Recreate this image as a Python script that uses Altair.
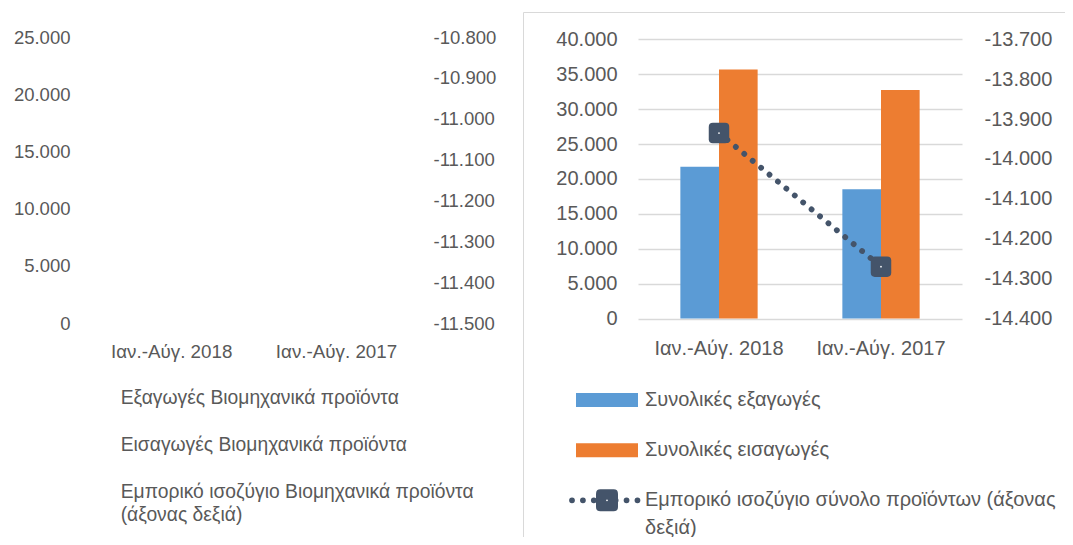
import altair as alt
import pandas as pd

# ---------------- data ----------------
categories = ["Ιαν.-Αύγ. 2018", "Ιαν.-Αύγ. 2017"]

# right panel: all products
bar_series = ["Συνολικές εξαγωγές", "Συνολικές εισαγωγές"]
exports_total = [21750, 18500]
imports_total = [35690, 32750]
balance_series = "Εμπορικό ισοζύγιο σύνολο προϊόντων (άξονας δεξιά)"
balance_total = [-13935, -14270]
total_legend_series = [bar_series[0], bar_series[1], balance_series]
total_legend_labels = [
    "Συνολικές εξαγωγές",
    "Συνολικές εισαγωγές",
    "Εμπορικό ισοζύγιο σύνολο προϊόντων (άξονας\nδεξιά)",
]

# left panel: industrial products (series without plotted values)
industrial_series = [
    "Εξαγωγές Βιομηχανικά προϊόντα",
    "Εισαγωγές  Βιομηχανικά προϊόντα",
    "Εμπορικό ισοζύγιο Βιομηχανικά προϊόντα (άξονας δεξιά)",
]
industrial_legend_labels = [
    "Εξαγωγές Βιομηχανικά προϊόντα",
    "Εισαγωγές  Βιομηχανικά προϊόντα",
    "Εμπορικό ισοζύγιο Βιομηχανικά προϊόντα\n(άξονας δεξιά)",
]
industrial_trade = [None, None]
industrial_balance = [None, None]

# axis ticks
left_ticks_l = [0, 5000, 10000, 15000, 20000, 25000]
left_ticks_r = [-11500, -11400, -11300, -11200, -11100, -11000, -10900, -10800]
right_ticks_l = [0, 5000, 10000, 15000, 20000, 25000, 30000, 35000, 40000]
right_ticks_r = [-14400, -14300, -14200, -14100, -14000, -13900, -13800, -13700]

# ---------------- style ----------------
W, H = 1057, 529
GREY = "#595959"
GRID = "#D9D9D9"
BLUE, ORANGE, DARK = "#5B9BD5", "#ED7D31", "#44546A"
FONT = "Liberation Sans"
ROUNDED = "M-0.6,-1H0.6Q1,-1,1,-0.6V0.6Q1,1,0.6,1H-0.6Q-1,1,-1,0.6V-0.6Q-1,-1,-0.6,-1Z"


def axis(orient, offset, size, values=None, grid=False, **kw):
    args = dict(orient=orient, offset=offset, title=None, domain=False, ticks=False,
                tickSize=0, labelPadding=0, labelColor=GREY, labelFontSize=size,
                labelFont=FONT, grid=grid)
    if values is not None:
        args["values"] = values
        args["format"] = ",d"
    if grid:
        args["gridColor"] = GRID
        args["gridWidth"] = 1.5
    args.update(kw)
    return alt.Axis(**args)


# ---------------- left panel ----------------
ind_df = pd.DataFrame({"period": categories, "trade": industrial_trade,
                       "balance": industrial_balance})
x_left = alt.X("period:N", sort=categories,
               scale=alt.Scale(type="band", domain=categories, range=[81.3, 410.9],
                               paddingInner=0, paddingOuter=0),
               axis=axis("bottom", -185.3, 18.8, labelBaseline="middle", labelAngle=0))
left_a = alt.Chart(ind_df).mark_point(opacity=0).encode(
    x=x_left,
    y=alt.Y("trade:Q", scale=alt.Scale(domain=[0, 25000], range=[315, 29], nice=False, zero=False),
            axis=axis("left", -62, 18.5, values=left_ticks_l)))
left_b = alt.Chart(ind_df).mark_point(opacity=0).encode(
    x=x_left,
    y=alt.Y("balance:Q", scale=alt.Scale(domain=[-11500, -10800], range=[315, 29], nice=False, zero=False),
            axis=axis("right", -632, 18.5, values=left_ticks_r)))
left = alt.layer(left_a, left_b).resolve_scale(y="independent")

# ---------------- right panel ----------------
bars_df = pd.DataFrame({
    "period": categories * 2,
    "series": [bar_series[0]] * 2 + [bar_series[1]] * 2,
    "value": exports_total + imports_total,
})
bal_df = pd.DataFrame({"period": categories, "balance": balance_total})

x_right = alt.X("period:N", sort=categories,
                scale=alt.Scale(type="band", domain=categories, range=[630, 954],
                                paddingInner=0.523, paddingOuter=0.2615),
                axis=axis("bottom", -189, 20, labelBaseline="middle", labelAngle=0))
bar_color = alt.Color("series:N", scale=alt.Scale(domain=bar_series, range=[BLUE, ORANGE]), legend=None)

bars = alt.Chart(bars_df).mark_bar().encode(
    x=x_right,
    xOffset=alt.XOffset("series:N", sort=bar_series,
                        scale=alt.Scale(domain=bar_series, paddingInner=0, paddingOuter=0)),
    y=alt.Y("value:Q", scale=alt.Scale(domain=[0, 40000], range=[310.5, 31.3], nice=False),
            axis=axis("left", -609, 20, values=right_ticks_l, grid=True)),
    color=bar_color,
)
y_bal = alt.Y("balance:Q",
              scale=alt.Scale(domain=[-14400, -13700], range=[310.5, 31.3], nice=False, zero=False),
              axis=axis("right", -81, 20, values=right_ticks_r))
line = alt.Chart(bal_df).mark_line(color=DARK, strokeWidth=5.8, strokeDash=[0.01, 10.9],
                                   strokeCap="round").encode(x=x_right, y=y_bal)
markers = alt.Chart(bal_df).mark_point(shape=ROUNDED, size=420, filled=True, color=DARK,
                                       opacity=1).encode(x=x_right, y=y_bal)
centers = alt.Chart(bal_df).mark_point(shape="circle", size=3, filled=True, color="white",
                                       opacity=1).encode(x=x_right, y=y_bal)
right = alt.layer(bars, alt.layer(line, markers, centers)).resolve_scale(y="independent")

# ---------------- legends ----------------
ind_leg_df = pd.DataFrame({"series": industrial_series, "label": industrial_legend_labels})
y_ind = alt.Y("series:N", sort=industrial_series,
              scale=alt.Scale(type="point", domain=industrial_series, range=[390, 484], padding=0),
              axis=None)
ind_legend = alt.Chart(ind_leg_df).mark_text(
    align="left", baseline="middle", fontSize=19.3, color=GREY, font=FONT,
    lineBreak="\n", lineHeight=22.7).encode(x=alt.value(112.7), y=y_ind, text="label:N")

tot_leg_df = pd.DataFrame({"series": total_legend_series, "label": total_legend_labels})
y_tot = alt.Y("series:N", sort=total_legend_series,
              scale=alt.Scale(type="point", domain=total_legend_series, range=[392, 492.3], padding=0),
              axis=None)
tot_text = alt.Chart(tot_leg_df).mark_text(
    align="left", baseline="middle", fontSize=20, color=GREY, font=FONT,
    lineBreak="\n", lineHeight=28).encode(x=alt.value(637), y=y_tot, text="label:N")
tot_rects = alt.Chart(tot_leg_df).transform_filter(
    alt.FieldOneOfPredicate(field="series", oneOf=bar_series)
).mark_rule(strokeWidth=14, strokeCap="butt").encode(
    x=alt.value(568), x2=alt.value(630), y=y_tot, color=bar_color)
tot_line = alt.Chart(tot_leg_df).transform_filter(
    alt.FieldEqualPredicate(field="series", equal=balance_series)
).mark_rule(strokeWidth=5.8, strokeDash=[0.01, 10.9], strokeCap="round", color=DARK).encode(
    x=alt.value(564), x2=alt.value(629.5), y=y_tot)
tot_marker = alt.Chart(tot_leg_df).transform_filter(
    alt.FieldEqualPredicate(field="series", equal=balance_series)
).mark_point(shape=ROUNDED, size=484, filled=True, color=DARK, opacity=1).encode(
    x=alt.value(599), y=y_tot)
tot_dot = alt.Chart(tot_leg_df).transform_filter(
    alt.FieldEqualPredicate(field="series", equal=balance_series)
).mark_point(shape="circle", size=3, filled=True, color="white", opacity=1).encode(
    x=alt.value(599), y=y_tot)

# ---------------- frame of the right chart ----------------
frame_df = pd.DataFrame({"k": [0]})
frame_v = alt.Chart(frame_df).mark_rule(color=GRID, strokeWidth=1).encode(
    x=alt.value(515.5), y=alt.value(4.5), y2=alt.value(H))
frame_h = alt.Chart(frame_df).mark_rule(color=GRID, strokeWidth=1).encode(
    x=alt.value(515.5), x2=alt.value(W), y=alt.value(4.5))

chart = alt.layer(
    frame_v, frame_h, left, right, ind_legend,
    tot_rects, tot_line, tot_marker, tot_dot, tot_text,
).resolve_scale(
    x="independent", y="independent", color="independent"
).properties(
    width=W, height=H, padding=0,
    autosize=alt.AutoSizeParams(type="none"),
).configure(
    font=FONT,
    locale={"number": {"decimal": ",", "thousands": ".", "grouping": [3],
                       "currency": ["", " €"], "minus": "-"}},
).configure_view(stroke=None)

chart.save("out.html", embed_options={"renderer": "svg", "actions": False})
